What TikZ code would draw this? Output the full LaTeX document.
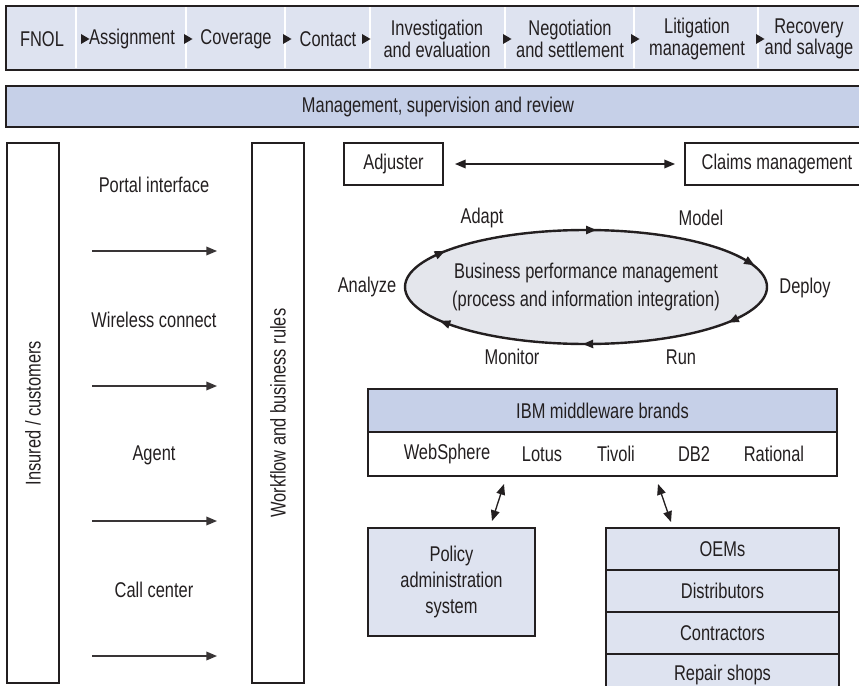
\documentclass[tikz,border=0pt]{standalone}
\usepackage{fontspec}
\setmainfont{Liberation Sans}[FakeStretch=0.77]
\usetikzlibrary{positioning,arrows.meta,decorations.markings,shapes.geometric}

\definecolor{barfill}{HTML}{DEE3F0}
\definecolor{mgmtfill}{HTML}{C6D0E8}
\definecolor{ringfill}{HTML}{E4E6EC}
\definecolor{ink}{HTML}{231F20}

\begin{document}
\begin{tikzpicture}[
  x=0.75pt, y=-0.75pt,
  font=\fontsize{16}{16}\selectfont,
  every node/.style={text=ink},
  boxline/.style={draw=ink, line width=2pt, outer sep=0pt, inner sep=0pt},
  lane/.style={boxline, fill=white, rotate=90,
    minimum width=540*0.75pt, minimum height=52*0.75pt},
  cell/.style={boxline, fill=barfill,
    minimum width=233*0.75pt, minimum height=42*0.75pt},
  sep/.style={white, line width=1.5pt},
  chan/.style={-{Triangle[length=8pt,width=6.5pt]}, line width=1pt, draw=ink!90},
  link/.style={{Triangle[length=8pt,width=6.5pt]}-{Triangle[length=8pt,width=6.5pt]},
    line width=1pt, draw=ink},
  ring/.style={ellipse, draw=ink, line width=1.8pt, fill=ringfill,
    inner sep=0pt, outer sep=0pt,
    minimum width=362*0.75pt, minimum height=114*0.75pt,
    postaction={decorate},
    decoration={markings,
      mark=at position 0.045 with {\arrow{Triangle[reversed,length=8pt,width=6pt]}},
      mark=at position 0.25 with {\arrow{Triangle[reversed,length=8pt,width=6pt]}},
      mark=at position 0.442 with {\arrow{Triangle[reversed,length=8pt,width=6pt]}},
      mark=at position 0.577 with {\arrow{Triangle[reversed,length=8pt,width=6pt]}},
      mark=at position 0.759 with {\arrow{Triangle[reversed,length=8pt,width=6pt]}},
      mark=at position 0.944 with {\arrow{Triangle[reversed,length=8pt,width=6pt]}}}}
]
\useasboundingbox (0,0) rectangle (859,685);

% claim stages
\node[boxline, fill=barfill, minimum width=864*0.75pt, minimum height=64*0.75pt]
  (stages) at (438,38) {};
\foreach \s in {76,186,285,370,505,634,758}
  \draw[sep] (\s,7.5) -- (\s,68.5);
\foreach \t in {85,188,287,366,507,635,760}
  \fill[ink] (\t-4,34) -- (\t+4.5,39) -- (\t-4,44) -- cycle;
\foreach \n/\x/\txt in {fnol/42/FNOL, assign/132/Assignment, cover/236/Coverage,
    contact/328/Contact, invest/437/{Investigation\\and evaluation},
    negot/570/{Negotiation\\and settlement}, litig/697/{Litigation\\management},
    recov/809/{Recovery\\and salvage}}
  \node[align=center, inner sep=0pt] (\n) at (\x,39) {\txt};

\node[boxline, fill=mgmtfill, minimum width=864*0.75pt, minimum height=41*0.75pt]
  (mgmt) at (438,106.5) {Management, supervision and review};

% channels
\node[lane] (insured) at (33,413) {Insured / customers};
\node[lane] (workflow) at (278,413) {Workflow and business rules};
\foreach \y/\txt [count=\i] in {185/Portal interface, 320/Wireless connect,
    455/Agent, 590/Call center} {
  \node (chan\i) at (154,\y) {\txt};
  \coordinate (chan\i a) at (92,\y+66);
  \coordinate (chan\i b) at (217,\y+66);
  \draw[chan] (chan\i a) -- (chan\i b);
}

% adjuster and claims
\node[boxline, minimum width=99*0.75pt, minimum height=42*0.75pt]
  (adjuster) at (393.5,164) {Adjuster};
\node[boxline, minimum width=184*0.75pt, minimum height=42*0.75pt]
  (claims) at (777,164) {Claims management};
\draw[link, shorten <=9pt, shorten >=7.5pt] (adjuster) -- (claims);

% performance cycle
\node[ring] (bpm) at (586,287) {};
\node[align=center, font=\fontsize{16}{20.5}\selectfont] (bpmtext) at (bpm)
  {Business performance management\\(process and information integration)};
\node (adapt) at (482,218) {Adapt};
\node (model) at (701,218) {Model};
\node (analyze) at (367,287) {Analyze};
\node (deploy) at (805,288) {Deploy};
\node (monitor) at (512,357) {Monitor};
\node (run) at (681,357) {Run};

% middleware
\node[boxline, fill=mgmtfill, minimum width=469*0.75pt, minimum height=43*0.75pt]
  (ibm) at (602.5,410.5) {IBM middleware brands};
\node[boxline, fill=white, minimum width=469*0.75pt, minimum height=44*0.75pt,
  below=0pt of ibm] (brands) {};
\foreach \n/\x in {WebSphere/447, Lotus/542, Tivoli/616, DB2/694, Rational/774}
  \node (\n) at (\x,454) {\n};

\node[boxline, fill=barfill, align=center, minimum width=167*0.75pt,
  minimum height=108*0.75pt, font=\fontsize{16}{19.5}\selectfont]
  (policy) at (451.5,582) {Policy\\administration\\system};

\node[cell] (oems) at (722.5,549) {OEMs};
\node[cell, below=0pt of oems] (distrib) {Distributors};
\node[cell, below=0pt of distrib] (contract) {Contractors};
\node[cell, below=0pt of contract] (repair) {Repair shops};

\draw[link] ([shift={(-98.5,8)}]brands.south) -- ([shift={(40.5,-7)}]policy.north);
\draw[link] ([shift={(55.5,8)}]brands.south) -- ([shift={(-51.5,-6)}]oems.north);
\end{tikzpicture}
\end{document}
